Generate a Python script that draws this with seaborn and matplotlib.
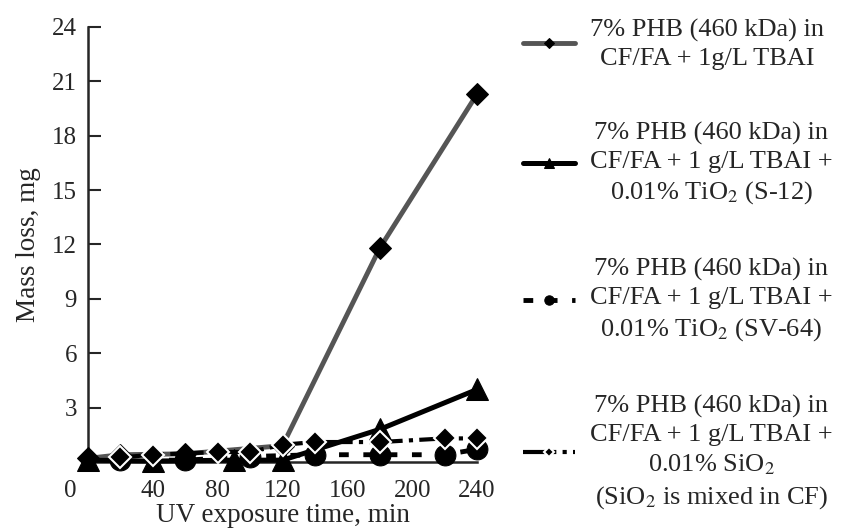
import matplotlib
matplotlib.use("Agg")
import matplotlib.pyplot as plt
import matplotlib.transforms as mtransforms
import pandas as pd
import seaborn as sns

# --- Data ---
s1_x = [0, 20, 60, 120, 180, 240]
s1_y = [0.2, 0.4, 0.45, 0.9, 11.8, 20.3]

s2_x = [0, 40, 90, 120, 180, 240]
s2_y = [0.1, 0.05, 0.1, 0.1, 1.8, 4.0]

s3_x = [20, 60, 100, 140, 180, 220, 240]
s3_y = [0.1, 0.1, 0.3, 0.4, 0.4, 0.4, 0.7]

s4_x = [20, 40, 80, 100, 120, 140, 180, 220, 240]
s4_y = [0.25, 0.4, 0.55, 0.55, 0.95, 1.1, 1.1, 1.3, 1.3]

labels = [
    "7% PHB (460 kDa) in\nCF/FA + 1g/L TBAI",
    "7% PHB (460 kDa) in\nCF/FA + 1 g/L TBAI +\n0.01% TiO$_2$ (S-12)",
    "7% PHB (460 kDa) in\nCF/FA + 1 g/L TBAI +\n0.01% TiO$_2$ (SV-64)",
    "7% PHB (460 kDa) in\nCF/FA + 1 g/L TBAI +\n0.01% SiO$_2$\n(SiO$_2$ is mixed in CF)",
]

x_ticks = [0, 40, 80, 120, 160, 200, 240]
y_ticks = [3, 6, 9, 12, 15, 18, 21, 24]

sns.set_style("ticks")
plt.rcParams["font.family"] = ["Liberation Serif", "DejaVu Serif"]
plt.rcParams["mathtext.fontset"] = "stix"

fig = plt.figure(figsize=(8.56, 5.29), dpi=100)
ax = fig.add_axes([0.1028, 0.1267, 0.4545, 0.8223])

d1 = pd.DataFrame({"t": s1_x, "m": s1_y})
d2 = pd.DataFrame({"t": s2_x, "m": s2_y})
d3 = pd.DataFrame({"t": s3_x, "m": s3_y})
d4 = pd.DataFrame({"t": s4_x, "m": s4_y})

sns.lineplot(data=d1, x="t", y="m", ax=ax, color="#555555", lw=3.5,
             marker="D", ms=11, mfc="black", mec="black", label=labels[0],
             clip_on=False, zorder=3)
sns.lineplot(data=d2, x="t", y="m", ax=ax, color="black", lw=3.6,
             marker="^", ms=16, mfc="black", mec="black", label=labels[1],
             clip_on=False, zorder=4)
sns.lineplot(data=d3, x="t", y="m", ax=ax, color="black", lw=3.5,
             linestyle=(0, (2, 3)), marker="o", ms=15, mfc="black",
             mec="black", label=labels[2], clip_on=False, zorder=5)
sns.lineplot(data=d4, x="t", y="m", ax=ax, color="black", lw=3,
             linestyle=(0, (8, 1.5, 1, 1.5)), marker="D", ms=11, mfc="black",
             mec="white", mew=1.5, label=labels[3], clip_on=False, zorder=6)

ax.set_xlim(0, 240)
ax.set_ylim(0, 24)
ax.set_xticks(x_ticks)
ax.set_yticks(y_ticks)
ax.tick_params(axis="x", length=0, labelsize=18, pad=13)
ax.tick_params(axis="y", direction="in", length=9, width=1.5, labelsize=18, pad=8)
for sp in ["top", "right"]:
    ax.spines[sp].set_visible(False)
for sp in ["left", "bottom"]:
    ax.spines[sp].set_linewidth(1.8)
ax.set_xlabel("UV exposure time, min", fontsize=19.5, labelpad=1)
ax.set_ylabel("Mass loss, mg", fontsize=19.5, labelpad=8)

# the 0 label sits left of the origin in the reference
zero = ax.get_xticklabels()[0]
zero.set_transform(zero.get_transform() + mtransforms.ScaledTranslation(-18 / 100, 0, fig.dpi_scale_trans))

handles, labs = ax.get_legend_handles_labels()
ax.get_legend().remove()
leg = fig.legend(handles, labs, loc="upper left", bbox_to_anchor=(0.592, 0.995),
                 frameon=False, fontsize=19, markerscale=0.45, handlelength=2.0,
                 handletextpad=0.55, labelspacing=1.97, borderaxespad=0.2)
for t in leg.get_texts():
    t.set_multialignment("center")
    t.set_linespacing(1.35)

fig.savefig("out.png", dpi=100)
